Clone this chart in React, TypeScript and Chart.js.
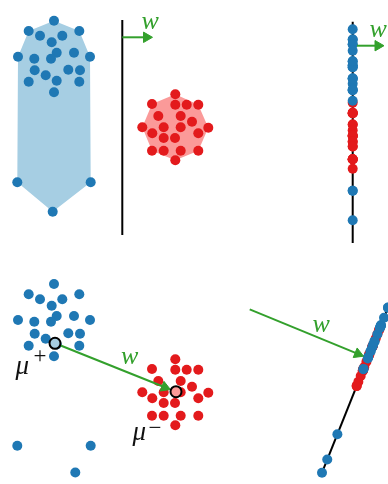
import React, { useEffect, useRef } from 'react';
import { Chart, registerables } from 'chart.js';

Chart.register(...registerables);

// ---- Data (plane units = px of the figure) ----
// class "+" (blue), upper panel
const posX = [54, 28.7, 79.3, 40, 62.3, 51.7, 18, 90, 34.3, 56.7, 51, 74, 34.7, 45.7, 68.3, 80, 28.7, 56.7, 79.3, 54, 17.3, 90.7, 52.7];
const posY = [20.7, 31, 31, 35.7, 35.7, 42.3, 56.7, 56.7, 58.7, 52.7, 58.7, 52.7, 70.3, 75.3, 69.7, 70.3, 81.7, 80.7, 81.7, 92.3, 182.3, 182.3, 211.7];
// class "-" (red), upper panel
const negX = [175.3, 152, 175.3, 186.7, 198.3, 158.3, 180.7, 192, 142.3, 163.7, 180.7, 208.3, 152.3, 198.3, 163.7, 175, 152, 163.7, 180.7, 198.3, 175.3];
const negY = [94.3, 104, 104.7, 104.7, 104.7, 116, 116, 121.7, 127.3, 127.3, 127.3, 127.7, 133.3, 133.3, 138, 138, 150.7, 150.7, 150.7, 150.7, 160.3];
// convex hull vertex order (indices)
const posHull = [0, 2, 7, 21, 22, 20, 6, 1];
const negHull = [0, 4, 11, 19, 20, 16, 8, 1];

// lower-left panel
const posLowX = [54, 28.7, 79.3, 40, 62.3, 51.7, 18, 90, 34.3, 56.7, 51, 74, 34.7, 45.7, 68.3, 80, 28.7, 56.7, 79.3, 54, 17.3, 90.7, 75.3];
const posLowY = [284, 294.3, 294.3, 299.3, 299.3, 305.7, 320, 320, 321.7, 316, 321.7, 316, 333.7, 338.7, 333.3, 333.7, 345.7, 344.5, 345.7, 356.3, 445.7, 445.7, 472.5];
const negLowX = [175.3, 152, 175.3, 186.7, 198.3, 158.3, 180.7, 192, 142.3, 163.7, 180.7, 208.3, 152.3, 198.3, 163.7, 175, 152, 163.7, 180.7, 198.3, 175.3];
const negLowY = [359.3, 369, 369.7, 369.7, 369.7, 381, 381, 386.7, 392.3, 392.3, 392.3, 392.7, 398.3, 398.3, 403, 403, 415.7, 415.7, 415.7, 415.7, 425.3];
const meanPos = [55, 343.3];
const meanNeg = [176, 391.7];

// ---- Layout (annotation geometry) ----
const PALETTE = {
  blue: '#1f78b4', red: '#e31a1c', lightBlue: '#a6cee3', lightRed: '#fb9a99', green: '#33a02c',
};
const topLeftLine = [[122.3, 20], [122.3, 235]];
const topRightLineX = 352.7;
const topRightLineY = [21.7, 243];
const topRightShift = 8.5;
// bottom-right projection line: anchor point and the sample mapped onto it
const brAnchor = [322, 472.7];
const brRefIndex = 22;
const arrows = [
  { from: [122.3, 37.3], to: [152.5, 37.3] },
  { from: [357, 45.7], to: [384, 45.7] },
  { from: meanPos, to: [170.4, 389.5] },
  { from: [249.7, 309.3], to: [363.5, 356.2] },
];
const texts = [
  { t: 'w', x: 141.5, y: 28.5, font: 'italic 26px "Liberation Serif"', color: PALETTE.green },
  { t: 'w', x: 369.5, y: 37, font: 'italic 26px "Liberation Serif"', color: PALETTE.green },
  { t: 'w', x: 121, y: 363.5, font: 'italic 26px "Liberation Serif"', color: PALETTE.green },
  { t: 'w', x: 312.5, y: 332, font: 'italic 26px "Liberation Serif"', color: PALETTE.green },
  { t: 'μ', x: 15.5, y: 373.5, font: 'italic 27px "Liberation Serif"', color: '#111' },
  { t: '+', x: 33.5, y: 362.5, font: '23px "Liberation Serif"', color: '#111' },
  { t: 'μ', x: 132.5, y: 440, font: 'italic 27px "Liberation Serif"', color: '#111' },
  { t: '−', x: 148.5, y: 435, font: '23px "Liberation Serif"', color: '#111' },
];

const pts = (xs: number[], ys: number[]) => xs.map((x, i) => ({ x, y: ys[i] }));

export default function App() {
  const ref = useRef<HTMLCanvasElement | null>(null);
  useEffect(() => {
    if (!ref.current) return;
    // perpendicular to w (direction between the class means)
    const wx = meanNeg[0] - meanPos[0];
    const wy = meanNeg[1] - meanPos[1];
    const wl = Math.hypot(wx, wy);
    const dx = wy / wl;
    const dy = -wx / wl;
    const proj = (xs: number[], ys: number[]) =>
      xs.map((x, i) => {
        const t = (x - posX[brRefIndex]) * dx + (ys[i] - posY[brRefIndex]) * dy;
        return { x: brAnchor[0] + t * dx, y: brAnchor[1] + t * dy };
      });
    const vertical = (ys: number[]) => ys.map((y) => ({ x: topRightLineX, y: y + topRightShift }));

    const pointSet = (data: any[], color: string, r = 5) => ({
      type: 'scatter', data, pointRadius: r, pointBackgroundColor: color, pointBorderWidth: 0,
      pointBorderColor: color, clip: false,
    });
    const lineSet = (data: any[], color: string, width = 2) => ({
      type: 'line', data, borderColor: color, borderWidth: width, pointRadius: 0, fill: false,
      tension: 0, clip: false,
    });
    const hullSet = (xs: number[], ys: number[], idx: number[], color: string) => ({
      type: 'line', data: [...idx, idx[0]].map((i) => ({ x: xs[i], y: ys[i] })),
      borderWidth: 0, borderColor: color, backgroundColor: color, fill: 'shape', pointRadius: 0,
      tension: 0, clip: false,
    });

    const layers: any[] = [];
    layers.push(hullSet(posX, posY, posHull, PALETTE.lightBlue));
    layers.push(hullSet(negX, negY, negHull, PALETTE.lightRed));
    layers.push(lineSet(topLeftLine.map(([x, y]) => ({ x, y })), '#000'));
    layers.push(lineSet(topRightLineY.map((y) => ({ x: topRightLineX, y })), '#000'));
    layers.push(lineSet([-4, 186].map((t) => ({ x: brAnchor[0] + t * dx, y: brAnchor[1] + t * dy })), '#000'));
    layers.push(pointSet(pts(negX, negY), PALETTE.red));
    layers.push(pointSet(pts(posX, posY), PALETTE.blue));
    layers.push(pointSet(vertical(negY), PALETTE.red));
    layers.push(pointSet(vertical(posY), PALETTE.blue));
    layers.push(pointSet(pts(negLowX, negLowY), PALETTE.red));
    layers.push(pointSet(pts(posLowX, posLowY), PALETTE.blue));
    layers.push(pointSet(proj(negX, negY), PALETTE.red));
    layers.push(pointSet(proj(posX, posY), PALETTE.blue));
    const headR = 6;
    arrows.forEach((a) => {
      const ax = a.to[0] - a.from[0];
      const ay = a.to[1] - a.from[1];
      const l = Math.hypot(ax, ay);
      const ux = ax / l, uy = ay / l;
      const c = { x: a.to[0] - ux * headR, y: a.to[1] - uy * headR };
      layers.push(lineSet([{ x: a.from[0], y: a.from[1] }, c], PALETTE.green, 2));
      layers.push({
        type: 'scatter', data: [c], pointStyle: 'triangle', pointRadius: headR,
        pointRotation: (Math.atan2(ux, -uy) * 180) / Math.PI,
        pointBackgroundColor: PALETTE.green, pointBorderColor: PALETTE.green, pointBorderWidth: 1, clip: false,
      });
    });
    layers.push({
      type: 'scatter', data: [{ x: meanPos[0], y: meanPos[1] }], pointRadius: 5.5,
      pointBackgroundColor: PALETTE.lightBlue, pointBorderColor: '#000', pointBorderWidth: 2, clip: false,
    });
    layers.push({
      type: 'scatter', data: [{ x: meanNeg[0], y: meanNeg[1] }], pointRadius: 5.5,
      pointBackgroundColor: PALETTE.lightRed, pointBorderColor: '#000', pointBorderWidth: 2, clip: false,
    });
    const datasets = layers.map((d, i) => ({ ...d, order: layers.length - i }));

    const textPlugin = {
      id: 'figText',
      afterDatasetsDraw(chart: any) {
        const { ctx } = chart;
        const sx = chart.scales.x, sy = chart.scales.y;
        ctx.save();
        ctx.textBaseline = 'alphabetic';
        ctx.textAlign = 'left';
        texts.forEach((t) => {
          ctx.font = t.font;
          ctx.fillStyle = t.color;
          ctx.fillText(t.t, sx.getPixelForValue(t.x), sy.getPixelForValue(t.y));
        });
        ctx.restore();
      },
    };

    const chart = new Chart(ref.current, {
      type: 'scatter',
      data: { datasets } as any,
      options: {
        animation: false,
        responsive: false,
        events: [],
        layout: { padding: 0, autoPadding: false },
        plugins: { legend: { display: false }, tooltip: { enabled: false } },
        scales: {
          x: { type: 'linear', min: 0, max: 388, display: false },
          y: { type: 'linear', min: 0, max: 484, reverse: true, display: false },
        },
      },
      plugins: [textPlugin],
    } as any);
    return () => chart.destroy();
  }, []);

  return (
    <div style={{ position: 'fixed', left: 0, top: 0, width: 388, height: 484, background: '#fff' }}>
      <canvas ref={ref} width={388} height={484} style={{ display: 'block' }} />
    </div>
  );
}
